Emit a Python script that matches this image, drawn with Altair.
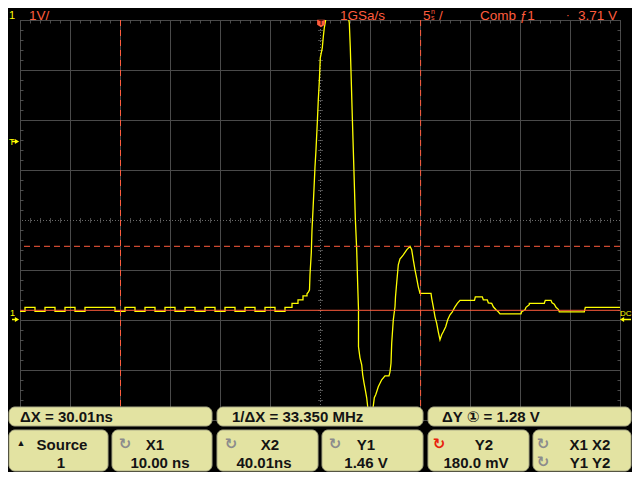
import altair as alt
import pandas as pd
import numpy as np

T_RANGE = [0.0, 60.0]          # ns : 12 divisions x 5 ns
V_TOP = 5.986                  # V at top edge of graticule
V_RANGE = [V_TOP - 8.0, V_TOP] # 8 divisions x 1 V

cursor_x_ns = [10.00, 40.01]
cursor_y1_v = 1.46
cursor_y2_v = 0.18

trace_t = [
    0.0, 0.5, 0.5, 1.5, 1.5, 2.5, 2.5, 3.5, 3.5, 4.5, 4.5, 5.5, 5.5, 6.5, 6.5,
    9.5, 9.5, 10.5, 10.5, 11.5, 11.5, 12.5, 12.5, 13.5, 13.5, 14.5, 14.5, 15.5, 15.5,
    16.5, 16.5, 17.5, 17.5, 18.5, 18.5, 19.5, 19.5, 20.5, 20.5, 21.5, 21.5, 22.5, 22.5,
    23.5, 23.5, 24.5, 24.5, 25.5, 25.5, 26.5, 26.5,
    27.2, 27.2, 27.8, 27.8, 28.3, 28.3, 28.7, 28.7, 28.85, 28.95,
    29.0, 29.13, 29.2, 29.3, 29.4, 29.5, 29.6, 29.73, 29.83, 29.93, 30.03, 30.23, 30.33, 30.43, 30.57,
    31.8,
    32.93, 33.03, 33.13, 33.23, 33.33, 33.43, 33.53, 33.67, 33.77, 33.85, 33.85, 34.0, 34.17, 34.27, 34.4, 34.53, 34.67, 34.77,
    35.05,
    35.33, 35.43, 35.57, 35.67, 35.83, 36.0, 36.17, 36.5, 36.9, 37.0, 37.1, 37.17, 37.33, 37.5, 37.55, 37.67, 37.83, 38.0, 38.1, 38.33, 38.67, 39.0,
    39.17, 39.33, 39.5, 39.67, 39.83, 40.0, 41.1, 41.17, 41.33, 41.5, 41.67, 41.83, 42.0,
    42.17, 42.33, 42.57, 42.77, 43.0, 43.23, 43.5, 43.73, 44.0, 45.45, 45.53, 46.23, 46.33, 46.73, 46.83, 47.17, 47.33, 47.6, 47.83, 48.0,
    50.1, 50.17, 50.5, 50.6, 50.93, 50.93, 52.43, 52.53, 53.1, 53.2, 53.43, 53.6, 53.83, 53.93, 56.43, 56.53, 60.0,
]
trace_v = [
    0.16, 0.16, 0.24, 0.24, 0.16, 0.16, 0.24, 0.24, 0.16, 0.16, 0.24, 0.24, 0.16, 0.16, 0.24,
    0.24, 0.16, 0.16, 0.24, 0.24, 0.16, 0.16, 0.24, 0.24, 0.16, 0.16, 0.24, 0.24, 0.16,
    0.16, 0.24, 0.24, 0.16, 0.16, 0.24, 0.24, 0.16, 0.16, 0.24, 0.24, 0.16, 0.16, 0.24,
    0.24, 0.16, 0.16, 0.24, 0.24, 0.16, 0.16, 0.24,
    0.24, 0.32, 0.32, 0.39, 0.39, 0.47, 0.47, 0.51, 0.55, 0.59,
    0.89, 1.33, 1.79, 2.19, 2.61, 3.05, 3.39, 3.93, 4.39, 4.75, 5.23, 5.43, 5.65, 5.83, 5.99,
    7.2,
    5.93, 5.43, 4.75, 4.05, 3.39, 2.73, 2.03, 1.39, 0.69, 0.19, -0.55, -0.77, -0.91, -1.11, -1.27, -1.41, -1.57, -1.75,
    -2.3,
    -1.73, -1.57, -1.51, -1.45, -1.35, -1.28, -1.21, -1.13, -1.13, -1.05, -0.88, -0.48, -0.01, 0.25, 0.45, 0.73, 1.09, 1.21, 1.23, 1.29, 1.39, 1.46,
    1.39, 1.19, 0.99, 0.82, 0.65, 0.52, 0.52, 0.42, 0.25, 0.05, -0.08, -0.25, -0.41,
    -0.31, -0.25, -0.15, -0.01, 0.09, 0.15, 0.25, 0.32, 0.38, 0.38, 0.45, 0.45, 0.39, 0.39, 0.33, 0.32, 0.25, 0.19, 0.15, 0.11,
    0.11, 0.15, 0.19, 0.24, 0.29, 0.32, 0.32, 0.38, 0.38, 0.33, 0.30, 0.24, 0.20, 0.15, 0.15, 0.24, 0.24,
]
assert len(trace_t) == len(trace_v)

header_labels = ["1V/", "1GSa/s", "5", "/", "Comb ƒ1", "·", "3.71 V"]
row1_labels = ["ΔX = 30.01ns", "1/ΔX = 33.350 MHz", "ΔY ① = 1.28 V"]
row2_titles = ["Source", "X1", "X2", "Y1", "Y2", "X1  X2"]
row2_values = ["1", "10.00 ns", "40.01ns", "1.46 V", "180.0 mV", "Y1  Y2"]

# ---------------- styling / layout ----------------
FONT = "Liberation Sans, Arial, DejaVu Sans"
RED = "#ff5c3d"
YEL = "#ffff00"
GRID = "#4a4a4a"
TICK = "#6a6a6a"
PANEL = "#e3e3a2"
PANEL_EDGE = "#a9a985"
INK = "#141414"
OX, OY = 20, 20  # plot origin on the page


def P(x):
    return x - OX


def Q(y):
    return y - OY


xs = alt.Scale(domain=T_RANGE, nice=False, zero=False)
ys = alt.Scale(domain=V_RANGE, nice=False, zero=False)


def X(f):
    return alt.X(f, type="quantitative", scale=xs, axis=None)


def Y(f):
    return alt.Y(f, type="quantitative", scale=ys, axis=None)


def PX(f):
    return alt.X(f, type="quantitative", scale=None, axis=None)


def PY(f):
    return alt.Y(f, type="quantitative", scale=None, axis=None)


layers = []

# graticule
grid_t = [t for t in range(0, 61, 5) if t != 30]
grid_v = [V_TOP - k for k in range(9) if k != 4]
layers.append(alt.Chart(pd.DataFrame({"t": grid_t})).mark_rule(color=GRID, strokeWidth=1, xOffset=0.5).encode(x=X("t")))
layers.append(alt.Chart(pd.DataFrame({"v": grid_v})).mark_rule(color=GRID, strokeWidth=1, yOffset=0.5).encode(y=Y("v")))
layers.append(alt.Chart(pd.DataFrame({"t": [30.0]})).mark_rule(color=TICK, strokeDash=[1, 2], xOffset=0.5).encode(x=X("t")))
layers.append(alt.Chart(pd.DataFrame({"v": [V_TOP - 4]})).mark_rule(color=TICK, strokeDash=[1, 2], yOffset=0.5).encode(y=Y("v")))

minor_t = [float(t) for t in np.arange(0, 60.01, 1.0) if int(round(t)) % 5 != 0]
minor_v = [V_TOP - k * 0.2 for k in range(41) if k % 5 != 0]

ct = pd.DataFrame({"t": minor_t, "v": [V_TOP - 4] * len(minor_t)})
layers.append(alt.Chart(ct).mark_tick(orient="vertical", size=5, thickness=1, color=TICK, xOffset=0.5, yOffset=0.5).encode(x=X("t"), y=Y("v")))
cv = pd.DataFrame({"t": [30.0] * len(minor_v), "v": minor_v})
layers.append(alt.Chart(cv).mark_tick(orient="horizontal", size=5, thickness=1, color=TICK, xOffset=0.5, yOffset=0.5).encode(x=X("t"), y=Y("v")))
tt = pd.DataFrame({"t": minor_t, "v": [V_TOP] * len(minor_t)})
layers.append(alt.Chart(tt).mark_tick(orient="vertical", size=3, thickness=1, color=TICK, xOffset=0.5, yOffset=2).encode(x=X("t"), y=Y("v")))
lt = pd.DataFrame({"t": [0.0] * len(minor_v), "v": minor_v})
layers.append(alt.Chart(lt).mark_tick(orient="horizontal", size=3, thickness=1, color=TICK, xOffset=2, yOffset=0.5).encode(x=X("t"), y=Y("v")))
rt = pd.DataFrame({"t": [60.0] * len(minor_v), "v": minor_v})
layers.append(alt.Chart(rt).mark_tick(orient="horizontal", size=3, thickness=1, color=TICK, xOffset=-1, yOffset=0.5).encode(x=X("t"), y=Y("v")))

# trace
tr = pd.DataFrame({"t": trace_t, "v": trace_v, "i": list(range(len(trace_t)))})
layers.append(alt.Chart(tr).mark_line(color=YEL, strokeWidth=1.3, clip=True).encode(x=X("t"), y=Y("v"), order="i:Q"))

# cursors
layers.append(alt.Chart(pd.DataFrame({"t": cursor_x_ns})).mark_rule(color=RED, strokeDash=[6, 4], strokeWidth=1, xOffset=0.5).encode(x=X("t")))
layers.append(alt.Chart(pd.DataFrame({"v": [cursor_y1_v]})).mark_rule(color=RED, strokeDash=[6, 4], strokeWidth=1).encode(y=Y("v")))
layers.append(alt.Chart(pd.DataFrame({"v": [cursor_y2_v]})).mark_rule(color=RED, strokeWidth=1).encode(y=Y("v")))

# trigger position marker (top)
layers.append(alt.Chart(pd.DataFrame({"x": [P(321)], "y": [Q(23.5)]})).mark_point(
    shape="M-1,-1L1,-1L1,0.3L0,1L-1,0.3Z", filled=True, size=60, color=RED, opacity=1).encode(x=PX("x"), y=PY("y")))
layers.append(alt.Chart(pd.DataFrame({"x": [P(321)], "y": [Q(23)], "s": ["T"]})).mark_text(
    font=FONT, fontSize=8, fontWeight="bold", color="#5a0a00", baseline="middle").encode(x=PX("x"), y=PY("y"), text="s:N"))

# left / right markers: arrows
arrows = pd.DataFrame({"x0": [P(12), P(12), P(622)], "x1": [P(17), P(17), P(631)], "y": [Q(141.5), Q(319.5), Q(319.5)]})
layers.append(alt.Chart(arrows).mark_rule(color=YEL, strokeWidth=1.5).encode(x=PX("x0"), x2="x1", y=PY("y")))
heads = pd.DataFrame({"x": [P(17), P(17), P(622)], "y": [Q(141.5), Q(319.5), Q(319.5)], "sh": ["triangle-right", "triangle-right", "triangle-left"]})
layers.append(alt.Chart(heads).mark_point(filled=True, size=24, color=YEL, opacity=1).encode(
    x=PX("x"), y=PY("y"), shape=alt.Shape("sh:N", scale=None, legend=None)))

# softkey panels
px0 = [5, 217, 428, 5, 112, 217, 322, 428, 533]
px1 = [212, 423, 631, 108, 212, 318, 423, 529, 631]
py0 = [407] * 3 + [430] * 6
py1 = [426] * 3 + [471] * 6
panels = pd.DataFrame({"x0": [P(max(v, 9)) for v in px0], "x1": [P(v) for v in px1], "y0": [Q(v) for v in py0], "y1": [Q(v) for v in py1]})
layers.append(alt.Chart(panels).mark_rect(cornerRadius=6, fill=PANEL, stroke=PANEL_EDGE, strokeWidth=1).encode(
    x=PX("x0"), x2="x1", y=PY("y0"), y2="y1"))

# left-aligned texts (header, markers)
ltxt = pd.DataFrame({
    "s": ["1", "T", "1", "DC"] + header_labels + ["n", "s"],
    "x": [P(9), P(9), P(10), P(620), P(29), P(340), P(423), P(439), P(480), P(566), P(578), P(431), P(431)],
    "y": [Q(19), Q(145), Q(316), Q(316), Q(19.5), Q(19.5), Q(19.5), Q(19.5), Q(19.5), Q(18.5), Q(19.5), Q(13.5), Q(19.5)],
    "fs": [11, 9, 9, 8, 13.5, 13.5, 13.5, 13.5, 13.5, 11, 13.5, 7, 7],
    "c": [YEL, YEL, YEL, YEL] + [RED] * 9,
})
layers.append(alt.Chart(ltxt).mark_text(font=FONT, align="left", baseline="alphabetic").encode(
    x=PX("x"), y=PY("y"), text="s:N",
    size=alt.Size("fs:Q", scale=None, legend=None), color=alt.Color("c:N", scale=None, legend=None)))

# first row of softkeys (left aligned, heavier)
r1 = pd.DataFrame({"s": row1_labels, "x": [P(20), P(232), P(442)], "y": [Q(422)] * 3})
layers.append(alt.Chart(r1).mark_text(font=FONT, align="left", baseline="alphabetic", fontSize=15, fontWeight="bold", color=INK).encode(
    x=PX("x"), y=PY("y"), text="s:N"))

# centred texts of second softkey row
r2 = pd.DataFrame({
    "s": row2_titles + row2_values,
    "x": [P(v) for v in [62, 155, 270, 366, 484, 590, 61, 160, 264, 366, 476, 590]],
    "y": [Q(450)] * 6 + [Q(468)] * 6,
})
layers.append(alt.Chart(r2).mark_text(font=FONT, align="center", baseline="alphabetic", fontSize=15, fontWeight="bold", color=INK).encode(
    x=PX("x"), y=PY("y"), text="s:N"))

knob = "↻"
kn = pd.DataFrame({
    "s": ["▲", knob, knob, knob, knob, knob, knob],
    "x": [P(v) for v in [21, 125, 231, 335, 439, 543, 543]],
    "y": [Q(446), Q(449), Q(449), Q(449), Q(449), Q(449), Q(467)],
    "fs": [9, 15, 15, 15, 15, 15, 15],
    "c": [INK, "#8c8c8c", "#8c8c8c", "#8c8c8c", "#e8200c", "#8c8c8c", "#8c8c8c"],
})
layers.append(alt.Chart(kn).mark_text(font=FONT, align="center", baseline="alphabetic", fontWeight="bold").encode(
    x=PX("x"), y=PY("y"), text="s:N",
    size=alt.Size("fs:Q", scale=None, legend=None), color=alt.Color("c:N", scale=None, legend=None)))

chart = alt.layer(*layers).resolve_scale(
    x="independent", y="independent"
).properties(
    width=600, height=400,
    autosize=alt.AutoSizeParams(type="none"),
    padding={"left": 12, "top": 12, "right": 12, "bottom": 52},
).configure(background="#000000").configure_view(stroke=None)

chart.save("out.html", embed_options={"renderer": "svg", "actions": False})
